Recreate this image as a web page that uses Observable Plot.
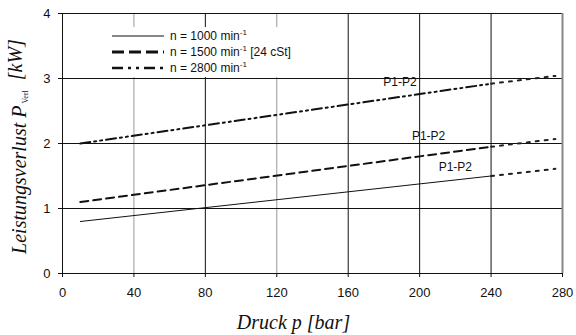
<!DOCTYPE html>
<html>
<head>
<meta charset="utf-8">
<script src="https://cdn.jsdelivr.net/npm/d3@7"></script>
<script src="https://cdn.jsdelivr.net/npm/@observablehq/plot@0.6"></script>
<style>
  html, body { margin: 0; padding: 0; background: #fff; }
  #wrap { position: relative; width: 576px; height: 335px; }
  #legend { position: absolute; left: 100px; top: 27px; width: 215px; height: 50px; background: #fff;
            font-family: "Liberation Sans", Arial, sans-serif; font-size: 12px; color: #111; }
  #legend .row { position: absolute; left: 12px; height: 16px; display: flex; align-items: center; }
  #legend svg { margin-right: 6px; }
  #legend sup { font-size: 8px; vertical-align: 5px; line-height: 0; }
</style>
</head>
<body>
<div id="wrap"></div>
<script>
// ---- data ----
const xTicks = [0, 40, 80, 120, 160, 200, 240, 280];
const yTicks = [0, 1, 2, 3, 4];
const seriesNames = ["n = 1000", "n = 1500", "n = 2800"];
const legendSuffix = ["", " [24 cSt]", ""];
const pressure = [10, 240];
const loss1000 = [0.80, 1.50];
const loss1500 = [1.10, 1.95];
const loss2800 = [2.00, 2.92];
const pressureExt = [240, 276];
const ext1000 = [1.50, 1.61];
const ext1500 = [1.95, 2.07];
const ext2800 = [2.92, 3.04];
const labelText = "P1-P2";
const labelX = [189, 205, 220];
const labelY = [2.94, 2.12, 1.63];
const xTitle = "Druck p [bar]";
const yTitleMain = "Leistungsverlust P";
const yTitleSub = "Verl";
const yTitleUnit = "[kW]";

// ---- build tables ----
const mk = (xs, ys) => xs.map((x, i) => ({x, y: ys[i]}));
const main = [mk(pressure, loss1000), mk(pressure, loss1500), mk(pressure, loss2800)];
const ext = [mk(pressureExt, ext1000), mk(pressureExt, ext1500), mk(pressureExt, ext2800)];
const labels = labelX.map((x, i) => ({x, y: labelY[i], t: labelText}));
const styles = [
  {strokeWidth: 1, strokeDasharray: null},
  {strokeWidth: 2, strokeDasharray: "8,5"},
  {strokeWidth: 2, strokeDasharray: "10,4,2,4,2,4"}
];

const font = "Liberation Sans, Arial, sans-serif";
const serif = "Liberation Serif, Times New Roman, serif";

const plot = Plot.plot({
  width: 576,
  height: 335,
  marginLeft: 62,
  marginRight: 14,
  marginTop: 13,
  marginBottom: 62,
  style: {fontFamily: font, fontSize: "13px", color: "#111", background: "#fff"},
  x: {domain: [0, 280], ticks: xTicks},
  y: {domain: [0, 4], ticks: yTicks},
  marks: [
    Plot.ruleX(xTicks.slice(1, -1), {stroke: d => (d === 40 || d === 120) ? "#999" : "#111", strokeWidth: 1}),
    Plot.ruleY(yTicks.slice(1, -1), {stroke: "#111", strokeWidth: 1}),
    Plot.ruleY([4], {stroke: "#111", strokeWidth: 1}),
    Plot.ruleX([280], {stroke: "#888", strokeWidth: 2}),
    ...main.map((d, i) => Plot.line(d, {x: "x", y: "y", stroke: "#111", strokeWidth: styles[i].strokeWidth, strokeDasharray: styles[i].strokeDasharray})),
    ...ext.map(d => Plot.line(d, {x: "x", y: "y", stroke: "#222", strokeWidth: 2, strokeDasharray: "3,6"})),
    Plot.text(labels, {x: "x", y: "y", text: "t", fontSize: 12, fill: "#111"}),
    Plot.axisX({ticks: xTicks, tickSize: 4, tickPadding: 10, label: null, fontSize: 13}),
    Plot.axisY({ticks: yTicks, tickSize: 4, tickPadding: 8, label: null, fontSize: 13, tickFormat: d3.format("d")}),
    Plot.ruleY([0], {stroke: "#111", strokeWidth: 1}),
    Plot.ruleX([0], {stroke: "#111", strokeWidth: 1}),
    Plot.text([xTitle], {frameAnchor: "bottom", lineAnchor: "bottom", dy: 55, dx: -19, fontFamily: serif, fontStyle: "italic", fontSize: 20, fill: "#111"}),
    Plot.text([yTitleMain], {frameAnchor: "left", textAnchor: "middle", lineAnchor: "bottom", dx: -37, dy: 3, rotate: -90, fontFamily: serif, fontStyle: "italic", fontSize: 20, fill: "#111", className: "ytitle"})
  ]
});

// rich y title (subscript)
const yt = d3.select(plot).select(".ytitle text");
yt.text(null);
yt.append("tspan").text(yTitleMain);
yt.append("tspan").attr("font-size", 8).attr("font-style", "normal").attr("dx", 2).attr("dy", "0.3em").text(yTitleSub);
yt.append("tspan").attr("dx", 10).attr("dy", "-0.3em").attr("font-size", 20).text(yTitleUnit);

const wrap = document.getElementById("wrap");
wrap.appendChild(plot);

// legend
const legend = document.createElement("div");
legend.id = "legend";
seriesNames.forEach((name, i) => {
  const row = document.createElement("div");
  row.className = "row";
  row.style.top = (1 + i * 16) + "px";
  const dash = ["", "12,5", "11,5,3,5,3,5"][i];
  const sw = [1, 3, 2.5][i];
  row.innerHTML = `<svg width="52" height="8"><line x1="0" x2="52" y1="4" y2="4" stroke="#111" stroke-width="${sw}" ${dash ? `stroke-dasharray="${dash}"` : ""}/></svg>` +
    `<span>${name} min<sup>-1</sup>${legendSuffix[i]}</span>`;
  legend.appendChild(row);
});
wrap.appendChild(legend);
</script>
</body>
</html>
